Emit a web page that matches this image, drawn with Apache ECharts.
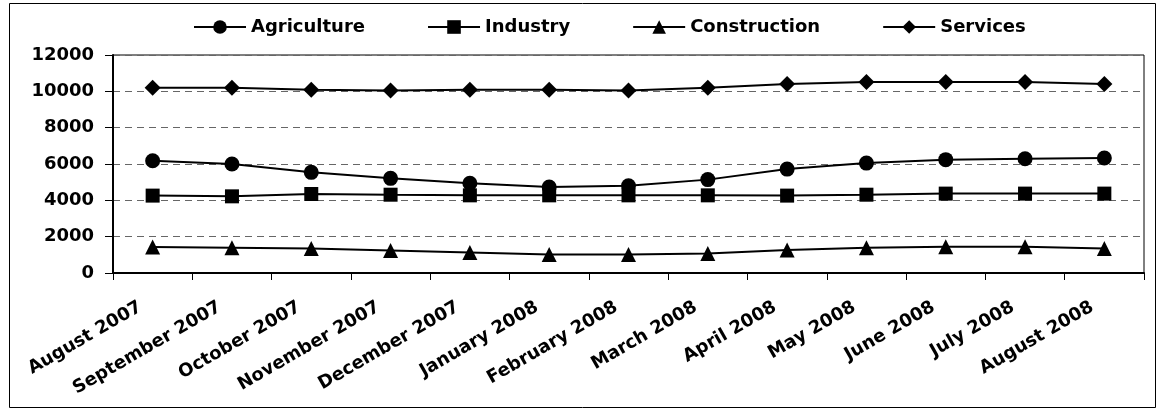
<!DOCTYPE html>
<html>
<head>
<meta charset="utf-8">
<script src="https://cdn.jsdelivr.net/npm/echarts@6/dist/echarts.min.js"></script>
<style>
html, body { margin: 0; padding: 0; background: #fff; }
#chart { width: 1161px; height: 412px; }
</style>
</head>
<body>
<div id="chart"></div>
<script>
var months = ['August 2007', 'September 2007', 'October 2007', 'November 2007', 'December 2007',
    'January 2008', 'February 2008', 'March 2008', 'April 2008', 'May 2008', 'June 2008',
    'July 2008', 'August 2008'];
var agriculture = [6180, 6000, 5540, 5210, 4940, 4730, 4800, 5140, 5720, 6050, 6240, 6290, 6330];
var industry = [4260, 4220, 4350, 4310, 4275, 4275, 4275, 4275, 4260, 4310, 4370, 4370, 4370];
var construction = [1430, 1390, 1350, 1240, 1130, 1020, 1020, 1070, 1260, 1390, 1440, 1440, 1350];
var services = [10200, 10200, 10090, 10050, 10090, 10090, 10050, 10200, 10410, 10520, 10520, 10520, 10410];

var font = 'DejaVu Sans, sans-serif';

function mkSeries(name, data, symbol, size) {
    return {
        name: name,
        type: 'line',
        data: data,
        symbol: symbol,
        symbolSize: size,
        lineStyle: { color: '#000', width: 2 },
        itemStyle: { color: '#000' },
        emphasis: { disabled: true }
    };
}

var chart = echarts.init(document.getElementById('chart'));
chart.setOption({
    animation: false,
    graphic: [{
        type: 'rect',
        shape: { x: 9.5, y: 3.5, width: 1146, height: 404 },
        style: { fill: 'none', stroke: '#000', lineWidth: 1 },
        silent: true
    }],
    legend: {
        top: 13,
        left: 188,
        itemWidth: 52,
        itemHeight: 17,
        itemGap: 62,
        textStyle: { fontFamily: font, fontWeight: 'bold', fontSize: 18, color: '#000' },
        data: ['Agriculture', 'Industry', 'Construction', 'Services']
    },
    grid: {
        left: 113, right: 17, top: 55, bottom: 139,
        show: true, borderColor: '#000', borderWidth: 1
    },
    xAxis: {
        type: 'category',
        data: months,
        boundaryGap: true,
        axisLine: { lineStyle: { color: '#000', width: 2 } },
        axisTick: { show: true, length: 7, lineStyle: { color: '#000' } },
        axisLabel: {
            rotate: 30, interval: 0, margin: 26, padding: [0, 14, 0, 0],
            fontFamily: font, fontWeight: 'bold', fontSize: 18, color: '#000'
        }
    },
    yAxis: {
        type: 'value',
        min: 0, max: 12000, interval: 2000,
        axisLine: { show: true, lineStyle: { color: '#000', width: 2 } },
        axisTick: { show: true, length: 8, lineStyle: { color: '#000' } },
        axisLabel: {
            margin: 19, fontFamily: font, fontWeight: 'bold', fontSize: 18, color: '#000',
            formatter: function (v) { return String(v); }
        },
        splitLine: { show: true, lineStyle: { color: '#666', type: [7, 5], width: 1 } }
    },
    series: [
        mkSeries('Agriculture', agriculture, 'circle', 15),
        mkSeries('Industry', industry, 'rect', 14),
        mkSeries('Construction', construction, 'triangle', 15),
        mkSeries('Services', services, 'diamond', 16)
    ]
});
</script>
</body>
</html>
